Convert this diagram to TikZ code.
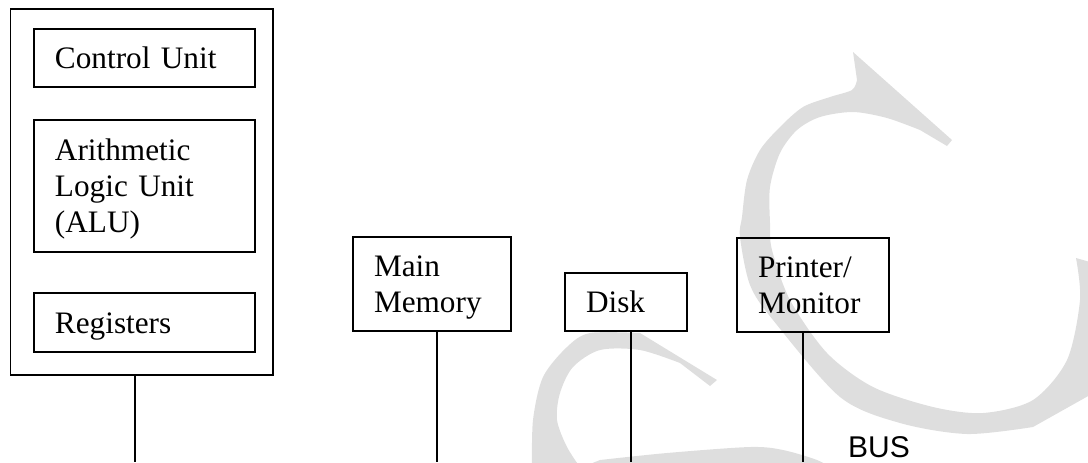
\documentclass[tikz,border=0pt]{standalone}
\usepackage{fontspec}
\setmainfont{Liberation Serif}
\setsansfont{Liberation Sans}
\usetikzlibrary{positioning}

\begin{document}
\begin{tikzpicture}[x=0.4pt, y=-0.4pt,
  blk/.style={draw, line width=0.75pt, inner xsep=8.4pt, align=left,
    text height=8.4pt, text depth=0pt, font=\fontsize{12.5}{14.5}\selectfont},
  wire/.style={line width=0.6pt},
  wmark/.style={fill=black!13, draw=none}
]
  \useasboundingbox (0,0) rectangle (1088,462);

  % Watermark in the background
  \fill[wmark] (853,52) -- (952,140) -- (947,146)
    -- plot[smooth] coordinates {(920,130) (887,118) (853,112) (820,117) (797,130) (780,153) (770,187) (770,223) (772,250) (790,300) (827,353) (873,387) (933,407) (983,413) (1033,400) (1067,360) (1080,300) (1076,258)}
    -- (1090,262) -- (1105,300) -- (1105,380) -- (1090,395)
    -- plot[smooth] coordinates {(1033,427) (967,434) (900,423) (840,397) (773,320) (750,285) (740,237) (742,217) (747,180) (760,150) (780,127) (803,107) (830,97) (852,90) (857,80)} -- cycle;
  \fill[wmark] plot[smooth] coordinates {(532,470) (533,420) (543,377) (567,347) (590,333) (640,333)}
    -- (717,380) -- (710,386)
    -- plot[smooth] coordinates {(680,363) (640,350) (600,350) (573,367) (560,393) (557,420) (567,447) (582,470)} -- cycle;
  \fill[wmark] (575,470) -- plot[smooth] coordinates {(600,460) (667,453) (750,447) (783,450) (817,460) (835,470)} -- cycle;

  % CPU
  \node[draw, line width=0.75pt, minimum width=105pt, minimum height=146.4pt] at (141.75,192) (cpu) {};
  \node[blk, text width=71.6pt, minimum height=23.2pt] at (144.5,58) (ctrl) {Control Unit};
  \node[blk, text width=71.6pt, minimum height=52.8pt, text depth=29pt] at (144.5,186) (alu) {Arithmetic\\Logic Unit\\(ALU)};
  \node[blk, text width=71.6pt, minimum height=23.6pt] at (144.5,322.5) (regs) {Registers};

  % Memory and devices
  \node[blk, text width=46.4pt, minimum height=37.6pt, text depth=14.5pt] at (432,284) (mem) {Main\\Memory};
  \node[blk, text width=32pt, minimum height=23.2pt] at (626,302) (disk) {Disk};
  \node[blk, text width=44pt, minimum height=37.6pt, text depth=14.5pt] at (813,285) (prn) {Printer/\\Monitor};

  % Bus taps
  \coordinate (cpuB) at (135,462);
  \coordinate (memB) at (437,462);
  \coordinate (diskB) at (631,462);
  \coordinate (prnB) at (803,462);
  \draw[wire] (cpu.south -| cpuB) -- (cpuB);
  \draw[wire] (mem.south -| memB) -- (memB);
  \draw[wire] (disk.south -| diskB) -- (diskB);
  \draw[wire] (prn.south -| prnB) -- (prnB);

  \node[font=\sffamily\fontsize{12}{14}\selectfont] at (879,447.5) (bus) {BUS};

\end{tikzpicture}
\end{document}
